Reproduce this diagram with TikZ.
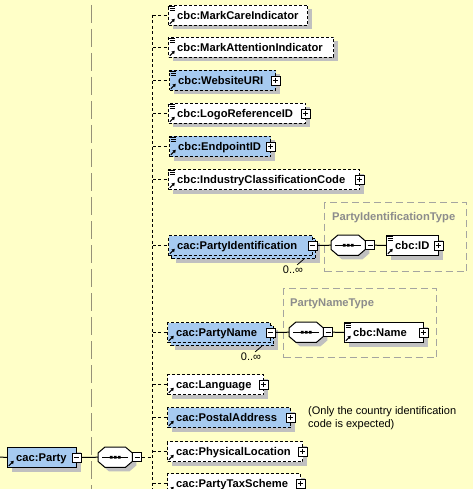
\documentclass[tikz,border=0pt]{standalone}
\usepackage{fontspec}
\setmainfont{Liberation Sans}
\usetikzlibrary{shadows,arrows.meta,calc}
\definecolor{bg}{RGB}{255,255,200}
\definecolor{elblue}{RGB}{166,202,240}
\definecolor{shgray}{RGB}{192,192,192}
\definecolor{vgray}{RGB}{150,145,120}
\definecolor{grpgray}{RGB}{165,165,160}
\definecolor{grptext}{RGB}{140,140,140}
\tikzset{
  shd/.style={drop shadow={shadow xshift=4pt,shadow yshift=-4pt,fill=shgray,opacity=1}},
  elbase/.style={draw, line width=1pt, minimum height=20pt, inner sep=0pt, anchor=north west},
  elbox/.style={elbase, shd},
  optdash/.style={dash pattern=on 3pt off 2pt},
  eltext/.style={font=\fontsize{11.2}{13}\selectfont\bfseries, inner sep=0pt, anchor=west, text height=8pt, text depth=0pt},
  multtext/.style={font=\fontsize{11}{13}\selectfont, inner sep=0pt, text height=8pt, text depth=0pt},
  anno/.style={font=\fontsize{11}{13.3}\selectfont, inner sep=0pt, anchor=west, align=left},
  expbox/.style={draw, fill=white, line width=0.8pt, minimum size=9pt, inner sep=0pt},
  plusbox/.style={expbox, path picture={\draw[line width=0.8pt]
      ($(path picture bounding box.center)+(-2.6,0)$) -- ($(path picture bounding box.center)+(2.6,0)$)
      ($(path picture bounding box.center)+(0,-2.6)$) -- ($(path picture bounding box.center)+(0,2.6)$);}},
  minusbox/.style={expbox, path picture={\draw[line width=0.8pt]
      ($(path picture bounding box.center)+(-2.6,0)$) -- ($(path picture bounding box.center)+(2.6,0)$);}},
  seqbase/.style={minimum width=34pt, minimum height=20pt, inner sep=0pt, anchor=north west},
  conn/.style={line width=1pt},
  dconn/.style={line width=1pt, dash pattern=on 3pt off 2.5pt},
  grp/.style={draw=grpgray, line width=1pt, dash pattern=on 7pt off 4pt, anchor=north west, inner sep=0pt},
  grplabel/.style={text=grptext, font=\fontsize{11.2}{13}\selectfont\bfseries, anchor=west, inner sep=0pt, text height=8pt, text depth=0pt},
  vsep/.style={draw=vgray, line width=1.3pt, dash pattern=on 18pt off 6pt},
}
\newcommand\xel[6]{%
  \node[elbox, minimum width=#4pt, #5] (#1) at (#2,#3) {};
  \node[eltext] (#1-t) at ([xshift=9pt]#1.west) {#6};}
\newcommand\docicon[1]{%
  \draw[line width=0.8pt] ([shift={(-0.5,1.2)}]#1.north west) -- ++(7,0)
    ([shift={(1.5,3.4)}]#1.north west) -- ++(5,0)
    ([shift={(1.5,5.6)}]#1.north west) -- ++(5,0);}
\newcommand\refarrow[1]{%
  \draw[line width=1.1pt, -{Triangle[length=3pt,width=3.6pt]}] ([shift={(1.8,-2.2)}]#1.south west) -- ++(5,-5);}
\newcommand\plusx[1]{\node[plusbox] (#1-x) at ([xshift=-0.5pt]#1.east) {};}
\newcommand\minusx[1]{\node[minusbox] (#1-x) at ([xshift=-0.5pt]#1.east) {};}
\newcommand\seqnode[3]{%
  \node[seqbase] (#1) at (#2,#3) {};
  \path[fill=white, draw, line width=1pt, shd]
    ([shift={(0,6)}]#1.north west) -- ([shift={(7,0)}]#1.north west) --
    ([shift={(-7,0)}]#1.north east) -- ([shift={(0,6)}]#1.north east) --
    ([shift={(0,-6)}]#1.south east) -- ([shift={(-7,0)}]#1.south east) --
    ([shift={(7,0)}]#1.south west) -- ([shift={(0,-6)}]#1.south west) -- cycle;
  \draw[line width=1pt] ([shift={(4,0)}]#1.west) -- ([shift={(-4,0)}]#1.east);
  \fill ([shift={(-5.3,-1.3)}]#1.center) rectangle ++(2.6,2.6)
        ([shift={(-1.3,-1.3)}]#1.center) rectangle ++(2.6,2.6)
        ([shift={(2.7,-1.3)}]#1.center) rectangle ++(2.6,2.6);
  \node[minusbox, anchor=west] (#1-x) at (#1.east) {};}
\begin{document}
\begin{tikzpicture}[x=1pt,y=-1pt]
\useasboundingbox (0,0) rectangle (473,489);
\fill[bg] (0,0) rectangle (473,489);
\coordinate (sepTop) at (91.5,5);
\coordinate (sepBot) at (91.5,495);
\draw[vsep] (sepTop) -- (sepBot);

% type groups
\node[grp, minimum width=142pt, minimum height=69pt] (pitype) at (324,202) {};
\node[grplabel] (pitype-t) at (332,216) {PartyIdentificationType};
\node[grp, minimum width=153pt, minimum height=69pt] (pntype) at (283,288) {};
\node[grplabel] (pntype-t) at (290,302) {PartyNameType};

% root
\xel{party}{7}{447}{69}{fill=elblue}{cac:Party}
\refarrow{party}
\minusx{party}
\seqnode{seqp}{98}{447}

% children
\xel{mci}{168}{5}{139}{fill=white,optdash}{cbc:MarkCareIndicator}
\docicon{mci}\refarrow{mci}
\xel{mai}{168}{37}{165}{fill=white,optdash}{cbc:MarkAttentionIndicator}
\docicon{mai}\refarrow{mai}
\xel{web}{169}{70}{106}{fill=elblue,optdash}{cbc:WebsiteURI}
\docicon{web}\refarrow{web}\plusx{web}
\xel{logo}{168}{103}{137}{fill=white,optdash}{cbc:LogoReferenceID}
\docicon{logo}\refarrow{logo}\plusx{logo}
\xel{endp}{169}{136}{101}{fill=elblue,optdash}{cbc:EndpointID}
\docicon{endp}\refarrow{endp}\plusx{endp}
\xel{ind}{168}{169}{191}{fill=white,optdash}{cbc:IndustryClassificationCode}
\docicon{ind}\refarrow{ind}\plusx{ind}

% PartyIdentification (multiple)
\node[elbox, minimum width=144pt, fill=elblue, optdash] (pidb) at (171,238) {};
\node[elbase, minimum width=144pt, fill=elblue, optdash] (pid) at (168,235) {};
\node[eltext] (pid-t) at ([xshift=9pt]pid.west) {cac:PartyIdentification};
\refarrow{pid}\minusx{pid}
\node[multtext] (pid-m) at (293,269) {0..∞};
\draw[line width=0.8pt] ([shift={(-6,0)}]pid-m.north east) -- ([shift={(-12,0)}]pidb.south east);
\seqnode{seqi}{331}{235}
\xel{idb}{386}{235}{52}{fill=white}{cbc:ID}
\docicon{idb}\refarrow{idb}\plusx{idb}

% PartyName (multiple)
\node[elbox, minimum width=103pt, fill=elblue, optdash] (pnb) at (170,325) {};
\node[elbase, minimum width=103pt, fill=elblue, optdash] (pname) at (167,322) {};
\node[eltext] (pname-t) at ([xshift=9pt]pname.west) {cac:PartyName};
\refarrow{pname}\minusx{pname}
\node[multtext] (pname-m) at (251,356) {0..∞};
\draw[line width=0.8pt] ([shift={(-6,0)}]pname-m.north east) -- ([shift={(-12,0)}]pnb.south east);
\seqnode{seqn}{289}{322}
\xel{nameb}{344}{322}{79}{fill=white}{cbc:Name}
\docicon{nameb}\refarrow{nameb}\plusx{nameb}

\xel{lang}{167}{374}{96}{fill=white,optdash}{cac:Language}
\refarrow{lang}\plusx{lang}
\xel{postal}{167}{407}{123}{fill=elblue,optdash}{cac:PostalAddress}
\refarrow{postal}\plusx{postal}
\node[anno] (note) at (308,418.5) {(Only the country identification\\code is expected)};
\xel{phys}{167}{441}{135}{fill=white,optdash}{cac:PhysicalLocation}
\refarrow{phys}\plusx{phys}
\xel{tax}{167}{473}{133}{fill=white,optdash}{cac:PartyTaxScheme}
\refarrow{tax}\plusx{tax}

% connectors
\coordinate (lft) at (0,457);
\coordinate (vtop) at (152.5,15);
\coordinate (vbot) at (152.5,495);
\draw[conn] (lft) -- (party.west);
\draw[conn] (party-x.east) -- (seqp.west);
\draw[dconn] (seqp-x.east) -- (seqp-x.east -| vtop);
\draw[dconn] (vtop) -- (vbot);
\foreach \n in {mci,mai,web,logo,endp,ind,pid,pname,lang,postal,phys,tax}
  \draw[dconn] (\n.west -| vtop) -- (\n.west);
\draw[conn] (pid-x.east) -- (seqi.west);
\draw[conn] (seqi-x.east) -- (idb.west);
\draw[conn] (pname-x.east) -- (seqn.west);
\draw[conn] (seqn-x.east) -- (nameb.west);
\end{tikzpicture}
\end{document}
